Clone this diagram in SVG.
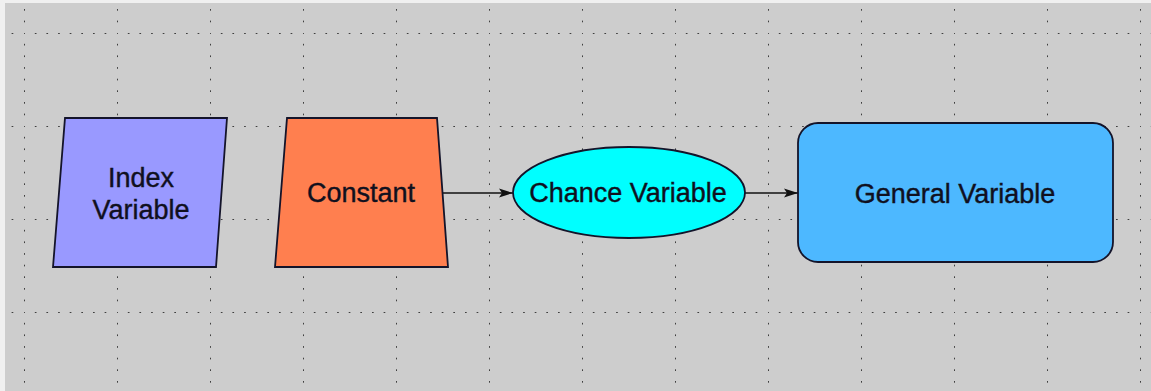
<svg xmlns="http://www.w3.org/2000/svg" width="1151" height="391" viewBox="0 0 1151 391">
  <style>
    .node { stroke: #14142a; stroke-width: 1.8; }
    .lbl { font-family: "Liberation Sans", Arial, sans-serif; font-size: 27px; fill: #10101e; stroke: #10101e; stroke-width: 0.4; text-anchor: middle; }
    .conn { stroke: #111; stroke-width: 1.5; fill: none; }
  </style>
  <defs>
    <pattern id="grid" patternUnits="userSpaceOnUse" x="24" y="33" width="93" height="93">
      <g fill="#2e2e2e">
        <rect x="-0.8" y="-0.8" width="1.7" height="1.7"/>
        <rect x="-0.8" y="10.8" width="1.7" height="1.7"/>
        <rect x="-0.8" y="22.4" width="1.7" height="1.7"/>
        <rect x="-0.8" y="34.1" width="1.7" height="1.7"/>
        <rect x="-0.8" y="45.7" width="1.7" height="1.7"/>
        <rect x="-0.8" y="57.3" width="1.7" height="1.7"/>
        <rect x="-0.8" y="69" width="1.7" height="1.7"/>
        <rect x="-0.8" y="80.6" width="1.7" height="1.7"/>
        <rect x="10.8" y="-0.8" width="1.7" height="1.7"/>
        <rect x="22.4" y="-0.8" width="1.7" height="1.7"/>
        <rect x="34.1" y="-0.8" width="1.7" height="1.7"/>
        <rect x="45.7" y="-0.8" width="1.7" height="1.7"/>
        <rect x="57.3" y="-0.8" width="1.7" height="1.7"/>
        <rect x="69" y="-0.8" width="1.7" height="1.7"/>
        <rect x="80.6" y="-0.8" width="1.7" height="1.7"/>
      </g>
    </pattern>
    <marker id="arrow" markerUnits="userSpaceOnUse" markerWidth="15" markerHeight="11" refX="14" refY="5.5" orient="auto">
      <path d="M0,1 L14,5.5 L0,10 L3,5.5 z" fill="#111"/>
    </marker>
  </defs>
  <rect x="0" y="0" width="1151" height="391" fill="#f0f0f0"/>
  <rect x="5" y="3" width="1146" height="388" fill="#cdcdcd"/>
  <rect x="5" y="3" width="1146" height="388" fill="url(#grid)"/>

  <g id="connectors">
    <line class="conn" x1="443" y1="193" x2="513" y2="193" marker-end="url(#arrow)"/>
    <line class="conn" x1="745" y1="193" x2="798" y2="193" marker-end="url(#arrow)"/>
  </g>

  <g id="index-variable">
    <polygon class="node" points="65,118 227,118 216,267 53,267" fill="#9999ff"/>
    <text class="lbl" x="141" y="187">Index</text>
    <text class="lbl" x="141" y="219">Variable</text>
  </g>

  <g id="constant">
    <polygon class="node" points="287,118 437,118 448,267 275,267" fill="#ff7f4f"/>
    <text class="lbl" x="361" y="202">Constant</text>
  </g>

  <g id="chance-variable">
    <ellipse class="node" cx="629" cy="192.5" rx="116" ry="45.5" fill="#00ffff"/>
    <text class="lbl" x="628" y="202">Chance Variable</text>
  </g>

  <g id="general-variable">
    <rect class="node" x="798" y="123" width="315" height="139" rx="20" ry="20" fill="#4db8ff"/>
    <text class="lbl" x="955" y="203">General Variable</text>
  </g>
</svg>
